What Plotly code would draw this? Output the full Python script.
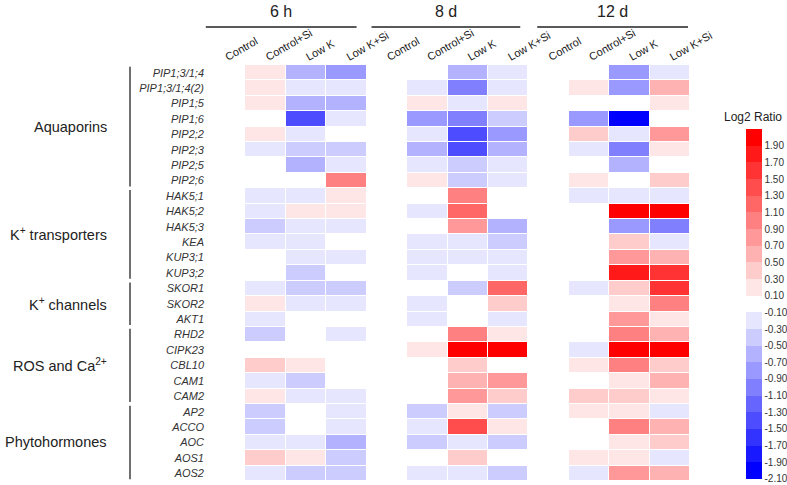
import plotly.graph_objects as go

genes = ["PIP1;3/1;4", "PIP1;3/1;4(2)", "PIP1;5", "PIP1;6", "PIP2;2", "PIP2;3", "PIP2;5", "PIP2;6",
         "HAK5;1", "HAK5;2", "HAK5;3", "KEA", "KUP3;1", "KUP3;2",
         "SKOR1", "SKOR2", "AKT1",
         "RHD2", "CIPK23", "CBL10", "CAM1", "CAM2",
         "AP2", "ACCO", "AOC", "AOS1", "AOS2"]
treatments = ["Control", "Control+Si", "Low K", "Low K+Si"]
times = ["6 h", "8 d", "12 d"]
groups = ["Aquaporins", "K<sup>+</sup> transporters", "K<sup>+</sup> channels",
          "ROS and Ca<sup>2+</sup>", "Phytohormones"]
group_sizes = [8, 6, 3, 5, 5]

# log2 ratios (Control, Control+Si, Low K, Low K+Si)
v_6h = [
    [0, 0.2, -0.6, -0.8], [0, 0.2, -0.2, -0.2], [0, 0.2, -0.6, -0.6], [0, 0, -1.4, -0.2],
    [0, 0.2, -0.2, 0], [0, -0.2, -0.4, -0.4], [0, 0, -0.6, -0.2], [0, 0, 0, 1.0],
    [0, -0.2, -0.2, 0.2], [0, -0.2, 0.2, 0.2], [0, -0.4, -0.2, -0.2], [0, -0.2, -0.2, 0],
    [0, 0, -0.2, -0.2], [0, 0, -0.4, 0],
    [0, -0.2, -0.4, -0.4], [0, 0.2, -0.2, -0.2], [0, -0.2, 0, 0],
    [0, -0.4, 0, -0.2], [0, 0, 0, 0], [0, 0.4, 0.2, 0], [0, -0.2, -0.4, 0], [0, 0.2, -0.2, -0.2],
    [0, -0.4, 0, -0.2], [0, -0.4, 0, -0.2], [0, -0.2, -0.2, -0.6], [0, 0.4, 0.2, -0.4], [0, -0.2, -0.4, -0.4],
]
v_8d = [
    [0, 0, -0.6, -0.2], [0, -0.2, -1.0, -0.2], [0, 0.2, -0.2, 0.2], [0, -0.8, -1.0, -0.4],
    [0, -0.2, -1.4, -0.8], [0, -0.6, -1.4, -0.6], [0, -0.2, -0.4, -0.2], [0, 0.2, -0.4, -0.2],
    [0, 0, 1.0, 0], [0, -0.2, 1.2, 0], [0, 0, 0.8, -0.6], [0, -0.2, -0.2, -0.4],
    [0, -0.2, -0.2, -0.2], [0, -0.2, 0, -0.2],
    [0, 0, -0.4, 1.2], [0, -0.2, 0, 0.4], [0, -0.2, 0, -0.2],
    [0, 0, 1.0, 0.2], [0, 0.2, 2.0, 2.0], [0, 0, 0.4, 0], [0, 0, 0.6, 0.8], [0, 0, 0.8, 0.4],
    [0, -0.4, 0.2, -0.4], [0, -0.2, 1.4, 0.2], [0, -0.4, -0.2, -0.4], [0, 0, 0.4, 0], [0, -0.2, -0.2, -0.4],
]
v_12d = [
    [0, 0, -0.8, -0.2], [0, 0.2, -0.8, 0.6], [0, 0, 0, 0.2], [0, -0.8, -2.0, 0],
    [0, 0.4, -0.2, 0.8], [0, -0.2, -1.0, 0.2], [0, 0, -0.6, 0], [0, 0.2, 0, 0.4],
    [0, -0.2, -0.2, -0.2], [0, 0, 2.0, 2.0], [0, 0, -0.8, -1.0], [0, 0, 0.4, -0.2],
    [0, 0, 0.8, 0.6], [0, 0, 1.8, 1.6],
    [0, -0.2, 0.4, 1.6], [0, 0, 0.2, 1.0], [0, 0, 0.8, 0.2],
    [0, 0, 1.0, 0.6], [0, -0.2, 2.0, 2.0], [0, 0.2, 1.0, 0.4], [0, 0, 0.2, 0.6], [0, 0.4, 0.4, 0.2],
    [0, 0.2, 0.2, -0.2], [0, 0, 1.0, 0.6], [0, 0, 0.2, 0.4], [0, 0.2, 0.2, -0.2], [0, -0.2, 0.8, 0.6],
]
cbar_ticks = [1.9, 1.7, 1.5, 1.3, 1.1, 0.9, 0.7, 0.5, 0.3, 0.1,
              -0.1, -0.3, -0.5, -0.7, -0.9, -1.1, -1.3, -1.5, -1.7, -1.9, -2.1]

# ---- build matrix ----
z = [a + b + c for a, b, c in zip(v_6h, v_8d, v_12d)]
ncol = len(times) * len(treatments)
xs = list(range(ncol))
ys = list(range(len(genes)))

# discrete colour scale: 21 bins of 0.2 from -2.1 to 2.1
nb = 21
cs = []
for i in range(nb):
    lvl = i - 10
    c = round(255 * (1 - abs(lvl) / 10))
    if lvl > 0:
        col = f"rgb(255,{c},{c})"
    elif lvl < 0:
        col = f"rgb({c},{c},255)"
    else:
        col = "rgb(255,255,255)"
    cs.append([i / nb, col])
    cs.append([(i + 1) / nb, col])

FONT = "Arial, Liberation Sans, sans-serif"
W, H = 787, 485
L, R, T, B = 205, 97, 65, 4
pw, ph = W - L - R, H - T - B

fig = go.Figure(go.Heatmap(
    z=z, x=xs, y=ys, zmin=-2.1002, zmax=2.1002, colorscale=cs, xgap=1, ygap=1,
    colorbar=dict(
        tickvals=cbar_ticks, ticktext=[f"{t:.2f}" for t in cbar_ticks],
        tickfont=dict(size=10, color="#333", family=FONT),
        ticks="", outlinewidth=0, thickness=16,
        lenmode="pixels", len=350, yanchor="top", y=(H - B - 129) / ph,
        xanchor="left", x=(745.5 - L) / pw, xpad=0, ypad=0,
    ),
))

fig.update_xaxes(side="top", tickvals=xs, ticktext=treatments * len(times), tickangle=-30,
                 tickfont=dict(size=11, color="#222", family=FONT), showgrid=False,
                 zeroline=False, showline=False, ticks="", range=[-0.5, ncol - 0.5],
                 automargin=False)
fig.update_yaxes(tickvals=ys, ticktext=[f"<i>{g}</i>" for g in genes], autorange=False,
                 range=[len(genes) - 0.5, -0.5], tickfont=dict(size=11, color="#333", family=FONT),
                 showgrid=False, zeroline=False, showline=False, ticks="", automargin=False)

shapes = []
annotations = []
# time headers
line_spans = [(-0.48, 3.25), (3.62, 7.3), (7.72, 11.45)]
for t, (a, b) in zip(times, line_spans):
    shapes.append(dict(type="line", xref="x", yref="paper", x0=a, x1=b,
                       y0=(H - B - 27) / ph, y1=(H - B - 27) / ph, line=dict(color="#222", width=1.5)))
    annotations.append(dict(text=t, xref="x", yref="paper", x=(a + b) / 2, y=(H - B - 12) / ph,
                            showarrow=False, font=dict(size=16, color="#222", family=FONT),
                            xanchor="center", yanchor="middle"))
# group labels
start = 0
for g, n in zip(groups, group_sizes):
    y0, y1 = start - 0.5, start + n - 0.5
    shapes.append(dict(type="line", xref="paper", yref="y", x0=(130 - L) / pw, x1=(130 - L) / pw,
                       y0=y0 + 0.12, y1=y1 - 0.12, line=dict(color="#222", width=1.3)))
    annotations.append(dict(text=g, xref="paper", yref="y", x=(109 - L) / pw, y=(y0 + y1) / 2,
                            showarrow=False, xanchor="right", yanchor="middle",
                            font=dict(size=14.5, color="#222", family=FONT)))
    start += n

# colour bar title
annotations.append(dict(text="Log2 Ratio", xref="paper", yref="paper", x=(753 - L) / pw,
                        y=(H - B - 117) / ph, showarrow=False, xanchor="center", yanchor="middle",
                        font=dict(size=12, color="#222", family=FONT)))

fig.update_layout(width=W, height=H, margin=dict(l=L, r=R, t=T, b=B, autoexpand=False),
                  paper_bgcolor="white", plot_bgcolor="white",
                  shapes=shapes, annotations=annotations, font=dict(family=FONT))
fig.write_html("out.html", config={"displayModeBar": False},
               post_script="document.body.style.margin='0';document.body.style.overflow='hidden';")
